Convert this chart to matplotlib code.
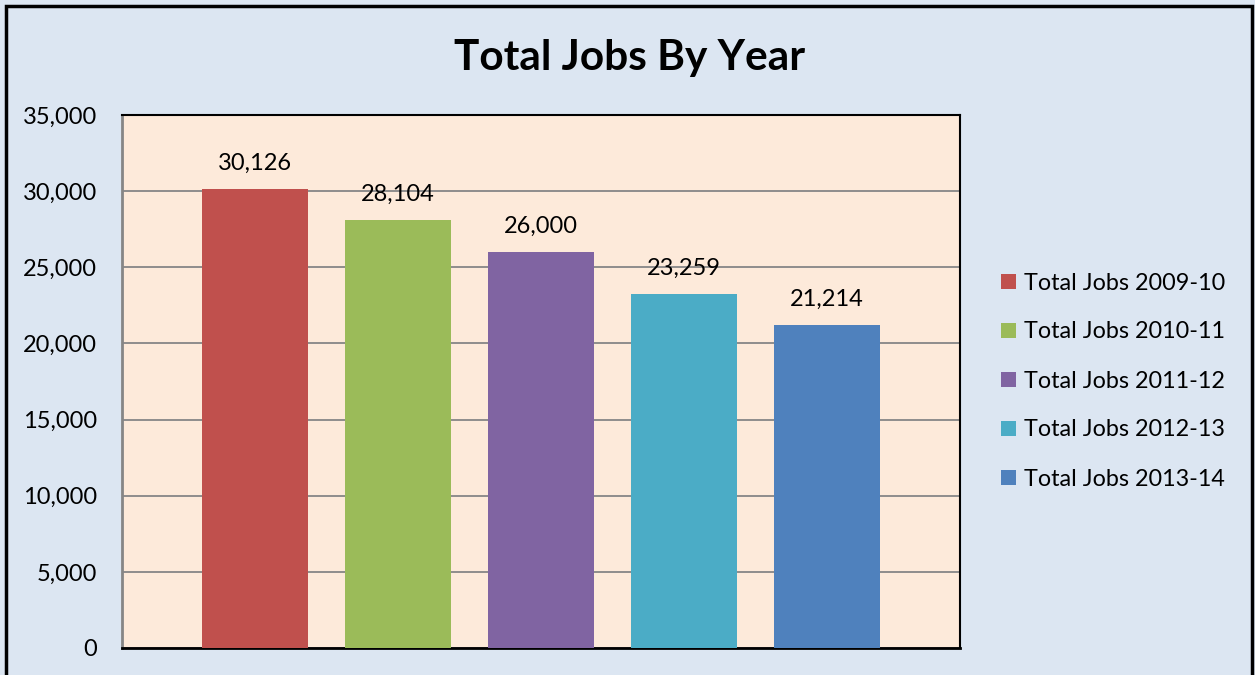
import matplotlib
matplotlib.use("Agg")
import matplotlib.pyplot as plt
from matplotlib.patches import Rectangle
from matplotlib.ticker import FuncFormatter

years = ["2009-10", "2010-11", "2011-12", "2012-13", "2013-14"]
jobs = [30126, 28104, 26000, 23259, 21214]
colors = ["#C0504D", "#9BBB59", "#8064A2", "#4BACC6", "#4F81BD"]

plt.rcParams["font.family"] = ["Lato", "DejaVu Sans"]

fig = plt.figure(figsize=(12.55, 6.75), dpi=100)
fig.patch.set_facecolor("#DCE6F2")

# outer chart frame (bottom edge falls off the canvas)
fig.patches.append(Rectangle((6 / 1255, -0.05), 1246 / 1255, 1.05 - 6 / 675,
                             transform=fig.transFigure, fill=False,
                             edgecolor="black", linewidth=2.5))

ax = fig.add_axes([122 / 1255, 27 / 675, 838 / 1255, 533 / 675])
ax.set_facecolor("#FDEADA")

for i, (yr, val, c) in enumerate(zip(years, jobs, colors)):
    ax.bar(i, val, width=0.74, color=c, label="Total Jobs " + yr, zorder=3)
    ax.annotate(f"{val:,}", (i, val), xytext=(0, 11), textcoords="offset points",
                ha="center", va="bottom", fontsize=17)

ax.set_xlim(-0.93, 4.93)
ax.set_ylim(0, 35000)
ax.set_yticks(range(0, 35001, 5000))
ax.yaxis.set_major_formatter(FuncFormatter(lambda v, p: f"{int(v):,}"))
ax.set_xticks([])
ax.tick_params(axis="y", length=0, pad=18, labelsize=17)
ax.grid(axis="y", color="#868686", linewidth=1.3, zorder=1)

ax.spines["left"].set_color("#868686")
ax.spines["left"].set_linewidth(2)
ax.spines["bottom"].set_color("black")
ax.spines["bottom"].set_linewidth(2)
for s in ["top", "right"]:
    ax.spines[s].set_color("black")
    ax.spines[s].set_linewidth(1.5)

fig.text(630 / 1255, 1 - 58 / 675, "Total Jobs By Year", ha="center", va="center",
         fontsize=30.5, fontweight="bold")

ax.legend(loc="center left", bbox_to_anchor=(980 / 1255, 1 - 381 / 675),
          bbox_transform=fig.transFigure, frameon=False, fontsize=16.8,
          handlelength=0.65, handleheight=0.65, handletextpad=0.35,
          labelspacing=1.2)

fig.savefig("out.png", dpi=100, facecolor=fig.get_facecolor())
